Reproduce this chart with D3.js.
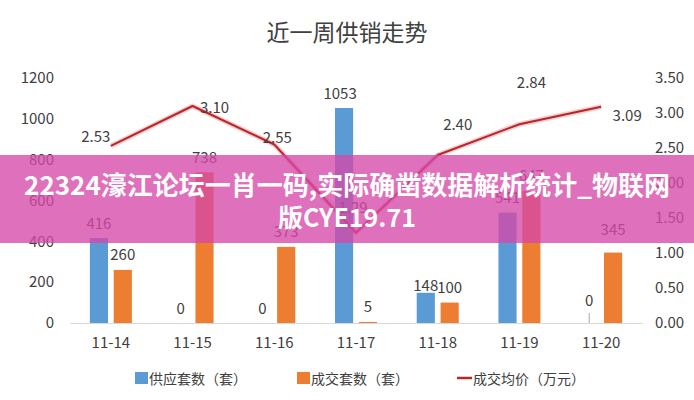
<!DOCTYPE html>
<html><head><meta charset="utf-8">
<script src="https://cdn.jsdelivr.net/npm/d3@7"></script>
<style>
html,body{margin:0;padding:0;background:#fff;}
svg{display:block;}
text{font-family:"Noto Sans CJK SC","Noto Sans",sans-serif;}
</style></head>
<body><svg id="c" width="694" height="400"></svg>
<script>
// ---- data ----
const categories = ["11-14","11-15","11-16","11-17","11-18","11-19","11-20"];
const supply = [416, 0, 0, 1053, 148, 541, 0];          // 供应套数（套）
const deals  = [260, 738, 373, 5, 100, 647, 345];       // 成交套数（套）
const price  = [2.53, 3.10, 2.55, 1.29, 2.40, 2.84, 3.09]; // 成交均价（万元）
const leftTicks  = [0, 200, 400, 600, 800, 1000, 1200];
const rightTicks = [0, 0.5, 1, 1.5, 2, 2.5, 3, 3.5];
const seriesNames = ["供应套数（套）", "成交套数（套）", "成交均价（万元）"];
const titleText = "近一周供销走势";
const bannerLines = ["22324濠江论坛一肖一码,实际确凿数据解析统计_物联网", "版CYE19.71"];

// label nudges (layout only)
const priceLabelOffsets = [[-15,-10],[22,0],[3,-8],[-3,-26],[20,-32],[12,-43],[26,8]];
const supplyLabelOffsets = [[0,0],[0,0],[0,0],[-4,0],[0,8],[0,0],[0,-8]];
const dealsLabelOffsets  = [[0,0],[0,0],[0,0],[0,0],[0,0],[0,0],[0,-8]];

const svg = d3.select("#c");
const colors = {supply:"#5b9bd5", deals:"#ed7d31", price:"#b8262c", text:"#404040", axis:"#d9d9d9"};

const x0 = d3.scaleBand().domain(categories).range([70, 642]).paddingInner(0).paddingOuter(0);
const x1 = d3.scaleBand().domain(["supply","deals"]).range([-21, 21]).paddingInner(0.24);
const yL = d3.scaleLinear().domain([0, 1200]).range([323, 78]);
const yR = d3.scaleLinear().domain([0, 3.5]).range([323, 78]);

// title
svg.append("text").attr("x", 347).attr("y", 31).attr("text-anchor","middle")
  .attr("dominant-baseline","central").attr("font-size", 23).attr("fill", colors.text)
  .text(titleText);

// left axis
const gL = svg.append("g").attr("transform","translate(56,0)")
  .call(d3.axisLeft(yL).tickValues(leftTicks).tickSize(0).tickPadding(2).tickFormat(d3.format("d")));
gL.select(".domain").remove();
gL.selectAll("text").attr("font-size", 15).attr("fill", colors.text).attr("font-family","Noto Sans, sans-serif");

// right axis
const gR = svg.append("g").attr("transform","translate(654,0)")
  .call(d3.axisRight(yR).tickValues(rightTicks).tickSize(0).tickPadding(1).tickFormat(d3.format(".2f")));
gR.select(".domain").remove();
gR.selectAll("text").attr("font-size", 15).attr("fill", colors.text).attr("font-family","Noto Sans, sans-serif");

// bottom axis
const gB = svg.append("g").attr("transform","translate(0,323)")
  .call(d3.axisBottom(x0).tickSize(0).tickPadding(14));
gB.select(".domain").attr("stroke", colors.axis).attr("stroke-width",1.2);
gB.selectAll("text").attr("font-size", 15).attr("fill", colors.text).attr("font-family","Noto Sans, sans-serif");

// bars
const cx = c => x0(c) + x0.bandwidth()/2;
const groups = svg.append("g");
groups.selectAll("rect.s").data(categories).join("rect").attr("class","s")
  .attr("x", c => cx(c) + x1("supply")).attr("width", x1.bandwidth())
  .attr("y", (c,i) => yL(supply[i])).attr("height", (c,i) => yL(0) - yL(supply[i]))
  .attr("fill", colors.supply);
groups.selectAll("rect.d").data(categories).join("rect").attr("class","d")
  .attr("x", c => cx(c) + x1("deals")).attr("width", x1.bandwidth())
  .attr("y", (c,i) => yL(deals[i])).attr("height", (c,i) => yL(0) - yL(deals[i]))
  .attr("fill", colors.deals);

// bar labels
const labels = svg.append("g").attr("font-size", 15).attr("fill", colors.text)
  .attr("font-family","Noto Sans, sans-serif").attr("text-anchor","middle").attr("dominant-baseline","central");
categories.forEach((c,i) => {
  const sx = cx(c) + x1("supply") + x1.bandwidth()/2;
  const dx = cx(c) + x1("deals") + x1.bandwidth()/2;
  labels.append("text").attr("x", sx + supplyLabelOffsets[i][0]).attr("y", yL(supply[i]) - 16 + supplyLabelOffsets[i][1]).text(supply[i]);
  labels.append("text").attr("x", dx + dealsLabelOffsets[i][0]).attr("y", yL(deals[i]) - 16 + dealsLabelOffsets[i][1]).text(deals[i]);
});
// leader line for the zero supply label of the last day
svg.append("line").attr("x1", cx(categories[6]) + x1("supply") + x1.bandwidth()/2)
  .attr("x2", cx(categories[6]) + x1("supply") + x1.bandwidth()/2)
  .attr("y1", yL(0) - 10).attr("y2", yL(0)).attr("stroke","#a6a6a6").attr("stroke-width",1);

// price line
const line = d3.line().x((d,i) => cx(categories[i])).y(d => yR(d));
svg.append("path").datum(price).attr("d", line).attr("fill","none")
  .attr("stroke","rgba(230,110,110,0.35)").attr("stroke-width",5).attr("stroke-linejoin","round");
svg.append("path").datum(price).attr("d", line).attr("fill","none")
  .attr("stroke", colors.price).attr("stroke-width",2).attr("stroke-linejoin","round");
const pl = svg.append("g").attr("font-size", 15).attr("fill", colors.text)
  .attr("font-family","Noto Sans, sans-serif").attr("text-anchor","middle").attr("dominant-baseline","central");
price.forEach((p,i) => {
  pl.append("text").attr("x", cx(categories[i]) + priceLabelOffsets[i][0])
    .attr("y", yR(p) + priceLabelOffsets[i][1]).text(d3.format(".2f")(p));
});

// legend
const lg = svg.append("g").attr("font-size", 14).attr("fill", colors.text);
const legendX = [135, 297, 457];
lg.append("rect").attr("x", legendX[0]).attr("y", 372).attr("width", 13).attr("height", 12).attr("fill", colors.supply);
lg.append("rect").attr("x", legendX[1]).attr("y", 372).attr("width", 13).attr("height", 12).attr("fill", colors.deals);
lg.append("line").attr("x1", legendX[2]).attr("x2", legendX[2]+15).attr("y1", 378).attr("y2", 378)
  .attr("stroke", colors.price).attr("stroke-width", 2.5);
[0,1,2].forEach(k => {
  lg.append("text").attr("x", legendX[k] + (k===2 ? 16 : 14)).attr("y", 378)
    .attr("dominant-baseline","central").text(seriesNames[k]);
});

// overlay banner
svg.append("rect").attr("x",0).attr("y",155).attr("width",694).attr("height",88)
  .attr("fill","rgb(214,72,168)").attr("fill-opacity",0.78);
const bt = svg.append("g").attr("fill","#fff").attr("font-weight","bold").attr("text-anchor","middle")
  .attr("font-family","'Noto Sans CJK SC', sans-serif");
bt.append("text").attr("x",347).attr("y",183).attr("font-size", 26).attr("dominant-baseline","central").text(bannerLines[0]);
bt.append("text").attr("x",347).attr("y",216).attr("font-size", 25).attr("dominant-baseline","central").text(bannerLines[1]);
</script></body></html>
